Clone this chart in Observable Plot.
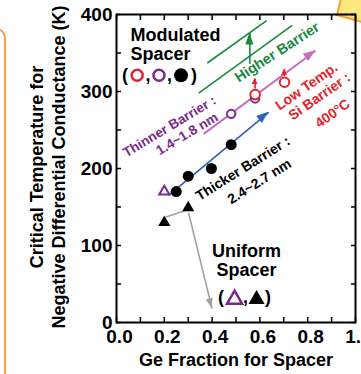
<!DOCTYPE html>
<html>
<head>
<meta charset="utf-8">
<script src="https://cdn.jsdelivr.net/npm/d3@7"></script>
<script src="https://cdn.jsdelivr.net/npm/@observablehq/plot@0.6"></script>
<style>
  body { margin: 0; background: #fff; }
  #wrap { position: relative; width: 361px; height: 374px; overflow: hidden; font-family: "Liberation Sans", Arial, sans-serif; }
  #deco-left { position: absolute; left: -30px; top: 28px; width: 32px; height: 420px; border: 2px solid #f5a444; border-top-right-radius: 10px; box-sizing: content-box; }
  #deco-top { position: absolute; left: 0; top: 0; }
  #chart { position: absolute; left: 0; top: 0; }
</style>
</head>
<body>
<div id="wrap">
  <div id="deco-left"></div>
  <svg id="deco-top" width="361" height="40"><polygon points="341,-2 337,15 362,22 362,-2" fill="#fbe77c" stroke="#f2a232" stroke-width="2"/></svg>
  <div id="chart"></div>
</div>
<script>
// ---- data ----
const modBlackGe = [0.25, 0.30, 0.397, 0.48];
const modBlackT  = [170, 190, 200, 231];
const modPurpleGe = [0.48, 0.58];
const modPurpleT  = [271, 291];
const modRedGe = [0.58, 0.703];
const modRedT  = [296, 312];
const uniPurpleGe = [0.20];
const uniPurpleT  = [170];
const uniBlackGe = [0.20, 0.30];
const uniBlackT  = [130, 149];

const xTickValues = [0, 0.2, 0.4, 0.6, 0.8, 1.0];
const xTickLabels = ["0.0", "0.2", "0.4", "0.6", "0.8", "1.0"];
const yTickValues = [0, 100, 200, 300, 400];
const yTickLabels = ["0", "100", "200", "300", "400"];
const xMinorTicks = [0, 0.1, 0.2, 0.3, 0.4, 0.5, 0.6, 0.7, 0.8, 0.9, 1.0];
const yMinorTicks = [0, 50, 100, 150, 200, 250, 300, 350, 400];

// guide lines / arrows (data coordinates)
const blueArrow   = [{x1: 0.218, y1: 165, x2: 0.637, y2: 273}];
const pinkArrow   = [{x1: 0.365, y1: 245, x2: 0.833, y2: 353}];
const greenLines  = [{x1: 0.380, y1: 337, x2: 0.628, y2: 392}, {x1: 0.344, y1: 298, x2: 0.735, y2: 386}];
const greenArrow  = [{x1: 0.558, y1: 336, x2: 0.558, y2: 376}];
const redArrows   = [{x1: 0.58, y1: 304, x2: 0.58, y2: 317}, {x1: 0.703, y1: 320, x2: 0.703, y2: 329}];
const grayLines   = [{x1: 0.207, y1: 137, x2: 0.289, y2: 145.5}];
const grayArrow   = [{x1: 0.301, y1: 143, x2: 0.400, y2: 18}];

const pts = (xs, ys) => xs.map((x, i) => ({x, y: ys[i]}));

const RED = "#e5232b", PURPLE = "#7b2a8c", PINK = "#c66cc2", BLUE = "#2e62b5", GREEN = "#178a3f", GRAY = "#a0a0a0";

function heads(segs, color, len, wid) {
  return (index, scales) => {
    const g = d3.create("svg:g").attr("fill", color);
    for (const s of segs) {
      const x1 = scales.x(s.x1), y1 = scales.y(s.y1), x2 = scales.x(s.x2), y2 = scales.y(s.y2);
      const a = Math.atan2(y2 - y1, x2 - x1);
      const ux = Math.cos(a), uy = Math.sin(a);
      const bx = x2 - ux * len, by = y2 - uy * len;
      const px = -uy * wid / 2, py = ux * wid / 2;
      g.append("path").attr("d", `M${x2},${y2}L${bx + px},${by + py}L${bx - px},${by - py}Z`);
    }
    return g.node();
  };
}
const link = (segs, stroke, strokeWidth) =>
  Plot.link(segs, {x1: "x1", y1: "y1", x2: "x2", y2: "y2", stroke, strokeWidth});

function label(text, x, y, o = {}) {
  return Plot.text([{x, y, text}], {
    x: "x", y: "y", text: "text",
    fontWeight: "bold", fontSize: o.size ?? 14, fill: o.fill ?? "black",
    rotate: o.rotate ?? 0, textAnchor: o.anchor ?? "middle", lineAnchor: "middle",
    dx: o.dx ?? 0, dy: o.dy ?? 0
  });
}

const tickStyle = {tickSize: -5, tickFormat: () => "", strokeWidth: 1.5, label: null};

const chart = Plot.plot({
  width: 361,
  height: 374,
  marginLeft: 116,
  marginRight: 6,
  marginTop: 14,
  marginBottom: 52,
  x: {domain: [0, 1]},
  y: {domain: [0, 400]},
  style: {background: "transparent", fontFamily: "'Liberation Sans', Arial, sans-serif", color: "black"},
  marks: [
    // guide lines
    link(greenLines, GREEN, 1.6),
    link(greenArrow, GREEN, 1.6),
    heads(greenArrow, GREEN, 12, 8),
    link(pinkArrow, PINK, 2),
    heads(pinkArrow, PINK, 12, 9),
    link(blueArrow, BLUE, 1.7),
    heads(blueArrow, BLUE, 12, 9),
    link(grayLines, GRAY, 1.6),
    link(grayArrow, GRAY, 1.6),
    heads(grayArrow, GRAY, 10, 7),
    link(redArrows, RED, 1.6),
    heads(redArrows, RED, 6, 6),

    // data points
    Plot.dot(pts(modPurpleGe, modPurpleT), {x: "x", y: "y", r: 4.2, stroke: PURPLE, strokeWidth: 2, fill: "white"}),
    Plot.dot(pts(modRedGe, modRedT), {x: "x", y: "y", r: 4.8, stroke: RED, strokeWidth: 2, fill: "white"}),
    Plot.dot(pts(modBlackGe, modBlackT), {x: "x", y: "y", r: 5.5, fill: "black"}),
    Plot.dot(pts(uniPurpleGe, uniPurpleT), {x: "x", y: "y", symbol: "triangle", r: 3.8, stroke: PURPLE, strokeWidth: 2, fill: "none"}),
    Plot.dot(pts(uniBlackGe, uniBlackT), {x: "x", y: "y", symbol: "triangle", r: 4.5, fill: "black"}),

    // legend: modulated spacer
    label("Modulated", 0.0586, 373.5, {size: 18, anchor: "start"}),
    label("Spacer", 0.0586, 348, {size: 18, anchor: "start"}),
    label("(", 0.0356, 321, {size: 18}),
    label(",", 0.1318, 321, {size: 18}),
    label(",", 0.2218, 321, {size: 18}),
    label(")", 0.324, 321, {size: 18}),
    Plot.dot([{x: 0.0866, y: 321}], {x: "x", y: "y", r: 5.5, stroke: RED, strokeWidth: 2.5, fill: "white"}),
    Plot.dot([{x: 0.1778, y: 321}], {x: "x", y: "y", r: 5.5, stroke: PURPLE, strokeWidth: 2.5, fill: "white"}),
    Plot.dot([{x: 0.27, y: 321}], {x: "x", y: "y", r: 7, fill: "black"}),

    // legend: uniform spacer
    label("Uniform", 0.544, 92.5, {size: 18}),
    label("Spacer", 0.544, 67.5, {size: 18}),
    label("(", 0.437, 32.5, {size: 18}),
    label(",", 0.540, 32.5, {size: 18}),
    label(")", 0.634, 32.5, {size: 18}),
    Plot.dot([{x: 0.494, y: 30}], {x: "x", y: "y", symbol: "triangle", r: 5.6, stroke: PURPLE, strokeWidth: 2.5, fill: "none"}),
    Plot.dot([{x: 0.586, y: 30}], {x: "x", y: "y", symbol: "triangle", r: 6, fill: "black"}),

    // annotations
    label("Higher Barrier", 0.672, 351, {size: 14.5, fill: GREEN, rotate: -33}),
    label("Low Temp.", 0.795, 306.5, {size: 14, fill: RED, rotate: -35}),
    label("Si Barrier :", 0.849, 293.5, {size: 14, fill: RED, rotate: -35}),
    label("400°C", 0.904, 271.4, {size: 14, fill: RED, rotate: -35}),
    label("Thinner Barrier :", 0.2218, 254.5, {size: 13.5, fill: PURPLE, rotate: -31}),
    label("1.4~1.8 nm", 0.295, 244.8, {size: 13.5, fill: PURPLE, rotate: -31}),
    label("Thicker Barrier :", 0.529, 200, {size: 14, fill: "black", rotate: -32}),
    label("2.4~2.7 nm", 0.598, 183.1, {size: 14, fill: "black", rotate: -32}),

    // axes
    Plot.axisX(xTickValues, {tickSize: 0, tickPadding: 7, dx: 3, fontSize: 19, fontWeight: "bold", label: null,
      tickFormat: d => xTickLabels[xTickValues.indexOf(d)]}),
    Plot.axisY(yTickValues, {tickSize: 0, tickPadding: 4, fontSize: 19, fontWeight: "bold", label: null,
      tickFormat: d => yTickLabels[yTickValues.indexOf(d)]}),
    Plot.axisX(xMinorTicks, {anchor: "bottom", ...tickStyle}),
    Plot.axisX(xMinorTicks, {anchor: "top", ...tickStyle}),
    Plot.axisY(yMinorTicks, {anchor: "left", ...tickStyle}),
    Plot.axisY(yMinorTicks, {anchor: "right", ...tickStyle}),
    Plot.frame({stroke: "black", strokeWidth: 2}),

    // axis titles
    Plot.text(["Critical Temperature for"], {text: d => d, frameAnchor: "left", dx: -79, dy: -1.5, rotate: -90, fontSize: 18, fontWeight: "bold", textAnchor: "middle", lineAnchor: "middle"}),
    Plot.text(["Negative Differential Conductance (K)"], {text: d => d, frameAnchor: "left", dx: -57, dy: -1.5, rotate: -90, fontSize: 18, fontWeight: "bold", textAnchor: "middle", lineAnchor: "middle"}),
    Plot.text(["Ge Fraction for Spacer"], {text: d => d, frameAnchor: "bottom", dy: 38, fontSize: 18, fontWeight: "bold", textAnchor: "middle", lineAnchor: "middle"})
  ]
});
document.getElementById("chart").appendChild(chart);
</script>
</body>
</html>
